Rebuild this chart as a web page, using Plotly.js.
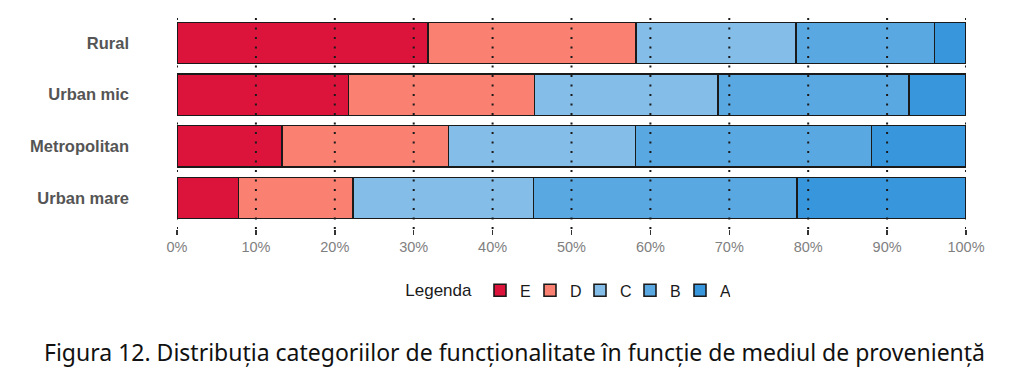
<!DOCTYPE html>
<html>
<head>
<meta charset="utf-8">
<script src="https://cdn.plot.ly/plotly-3.0.1.min.js"></script>
<style>html,body{margin:0;padding:0;background:#fff;}#chart{width:1024px;height:381px;}</style>
</head>
<body>
<div id="chart"></div>
<script>
// Data
var categories = ["Rural", "Urban mic", "Metropolitan", "Urban mare"];
var seriesNames = ["E", "D", "C", "B", "A"];
var valuesE = [31.8, 21.75, 13.3, 7.8];
var valuesD = [26.4, 23.55, 21.1, 14.5];
var valuesC = [20.25, 23.3, 23.7, 22.9];
var valuesB = [17.55, 24.2, 29.9, 33.4];
var valuesA = [4.0, 7.2, 12.0, 21.4];
var tickValues = [0, 10, 20, 30, 40, 50, 60, 70, 80, 90, 100];
var tickLabels = ["0%", "10%", "20%", "30%", "40%", "50%", "60%", "70%", "80%", "90%", "100%"];
var captionText = "Figura 12. Distribuția categoriilor de funcționalitate în funcție de mediul de proveniență";
var legendTitle = "Legenda";

var colors = ["#DC143C", "#FA8072", "#85BDE9", "#5AA8E2", "#3897DC"];
var allValues = [valuesE, valuesD, valuesC, valuesB, valuesA];

var traces = seriesNames.map(function (name, i) {
  return {
    type: "bar",
    orientation: "h",
    name: name,
    y: categories,
    x: allValues[i],
    marker: { color: colors[i], line: { color: "#1a1a1a", width: 1.6 } },
    hoverinfo: "x+name"
  };
});

var gridShapes = tickValues.map(function (v) {
  return {
    type: "line", layer: "above", xref: "x", yref: "paper",
    x0: v, x1: v, y0: 0, y1: 1,
    line: { color: "#1a1a1a", width: 2, dash: "2px,7.5px" }
  };
});

var layout = {
  width: 1024, height: 381,
  paper_bgcolor: "#ffffff", plot_bgcolor: "#ffffff",
  margin: { l: 177, r: 58, t: 12, b: 152 },
  barmode: "stack",
  bargap: 0.2,
  showlegend: true,
  legend: {
    orientation: "h", x: 0.494, xanchor: "center", y: -0.283, yanchor: "middle",
    title: { text: legendTitle, side: "left", font: { family: "Liberation Sans, Arial, sans-serif", size: 17, color: "#1a1a1a" } },
    font: { family: "Liberation Sans, Arial, sans-serif", size: 16, color: "#1a1a1a" },
    traceorder: "normal",
    itemwidth: 30,
    entrywidth: 5,
    entrywidthmode: "pixels"
  },
  xaxis: {
    range: [0, 100], tickvals: tickValues, ticktext: tickLabels,
    showgrid: false, zeroline: false, showline: false,
    ticks: "outside", ticklen: 5, tickwidth: 1.5, tickcolor: "#333",
    tickfont: { family: "Liberation Sans, Arial, sans-serif", size: 14.5, color: "#7f7f7f" },
    fixedrange: true
  },
  yaxis: {
    type: "category", categoryorder: "array", categoryarray: categories,
    autorange: false, range: [3.6, -0.6],
    showgrid: false, zeroline: false, showline: false, ticks: "",
    ticklabelstandoff: 47,
    tickfont: { family: "Liberation Sans, Arial, sans-serif", size: 16.5, color: "#555555", weight: "bold" },
    fixedrange: true
  },
  shapes: gridShapes,
  annotations: [{
    xref: "paper", yref: "paper", x: 0.428, y: -0.569, xanchor: "center", yanchor: "middle",
    showarrow: false, text: captionText,
    font: { family: "Noto Sans, Roboto, sans-serif", size: 23, color: "#111111" }
  }]
};

Plotly.newPlot("chart", traces, layout, { displayModeBar: false, staticPlot: true });
</script>
</body>
</html>
